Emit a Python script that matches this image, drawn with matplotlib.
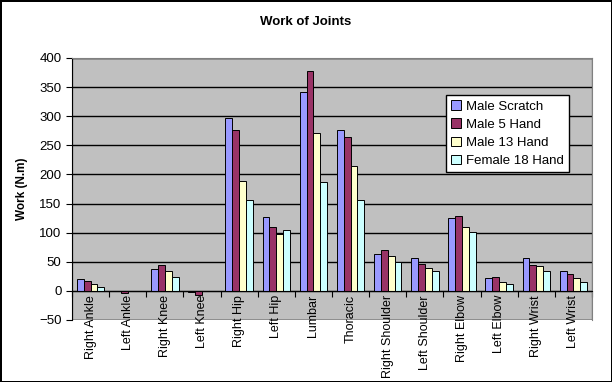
import numpy as np
import matplotlib.pyplot as plt
from matplotlib.patches import Rectangle

joints = ["Right Ankle", "Left Ankle", "Right Knee", "Left Knee", "Right Hip", "Left Hip",
          "Lumbar", "Thoracic", "Right Shoulder", "Left Shoulder", "Right Elbow",
          "Left Elbow", "Right Wrist", "Left Wrist"]
male_scratch = [20, -1, 37, -2, 297, 127, 341, 276, 63, 56, 125, 22, 56, 34]
male_5_hand = [17, -3, 44, -7, 276, 109, 378, 264, 70, 46, 128, 24, 44, 29]
male_13_hand = [11, -0.5, 34, -1, 188, 98, 271, 214, 60, 39, 109, 15, 42, 22]
female_18_hand = [7, -0.5, 23, -1, 156, 104, 187, 156, 49, 35, 101, 11, 34, 15]

series = [("Male Scratch", male_scratch, "#9999ff"),
          ("Male 5 Hand", male_5_hand, "#993366"),
          ("Male 13 Hand", male_13_hand, "#ffffcc"),
          ("Female 18 Hand", female_18_hand, "#ccffff")]

plt.rcParams['font.family'] = ['Liberation Sans', 'DejaVu Sans']

fig = plt.figure(figsize=(6.12, 3.82), dpi=100)
fig.patch.set_edgecolor('black')
fig.patch.set_linewidth(2)
ax = fig.add_axes([72/612, 1-320/382, 520/612, 262/382])
ax.set_facecolor('#c0c0c0')

x = np.arange(len(joints))
w = 0.185
for i, (name, vals, col) in enumerate(series):
    ax.bar(x + (i-1.5)*w, vals, w, color=col, edgecolor='black', linewidth=0.7,
           label=name, zorder=3)

ax.set_xlim(-0.5, len(joints)-0.5)
ax.set_ylim(-50, 400)
ax.set_yticks(np.arange(-50, 401, 50))
ax.yaxis.grid(True, color='black', linewidth=1, zorder=1)
ax.set_axisbelow(True)

for s in ['top', 'right']:
    ax.spines[s].set_color('#808080')
ax.spines['bottom'].set_position(('data', 0))
ax.spines['bottom'].set_zorder(4)
ax.add_patch(Rectangle((0, 0), 1, 1, transform=ax.transAxes, fill=False,
                       edgecolor='#808080', linewidth=1, zorder=0.5))

ax.set_xticks(np.arange(-0.5, len(joints), 1))
ax.set_xticklabels([])
ax.set_xticks(x, minor=True)
ax.set_xticklabels(joints, minor=True, rotation=90, fontsize=9)
ax.tick_params(axis='x', which='major', direction='out', length=4)
ax.tick_params(axis='x', which='minor', length=0, pad=3)
ax.tick_params(axis='y', direction='out', length=4, labelsize=9.5)

ax.set_ylabel("Work (N.m)", fontsize=8.5, fontweight='bold', labelpad=8)
fig.text(0.5, 1-22/382, "Work of Joints", ha='center', va='center',
         fontsize=9.5, fontweight='bold')

leg = ax.legend(loc='upper left', bbox_to_anchor=(374/520, 1-37/262), fontsize=9.5,
                frameon=True, fancybox=False, edgecolor='black', framealpha=1,
                handlelength=0.7, handleheight=0.7, handletextpad=0.4,
                labelspacing=0.45, borderpad=0.4, borderaxespad=0)
leg.get_frame().set_linewidth(1)

fig.savefig("out.png", dpi=100)
